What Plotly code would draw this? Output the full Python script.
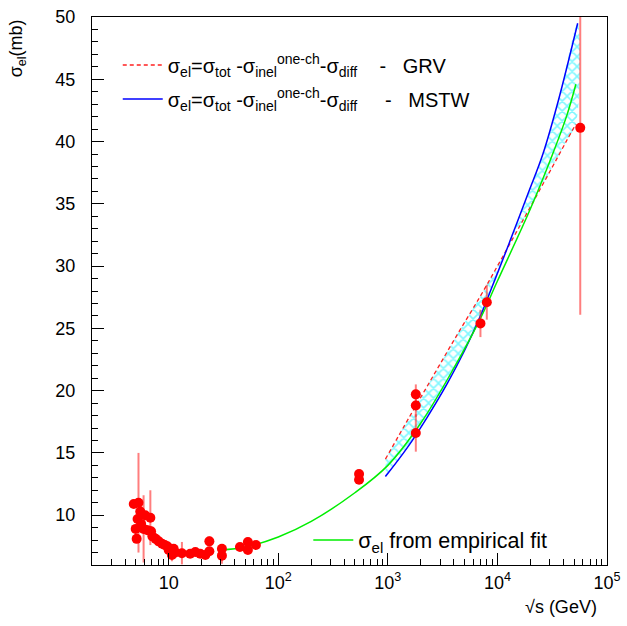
import plotly.graph_objects as go

# ---------------- data ----------------
# measured elastic cross sections (sqrt(s) in GeV, sigma_el in mb, error)
data_x = [4.8, 5.0, 5.1, 5.2, 5.3, 5.5, 5.6, 5.9, 6.1, 6.4, 6.8, 6.9, 7.1, 7.6, 8.1,
          8.7, 9.2, 9.7, 10.0, 10.4, 10.7, 11.1, 11.5, 13.2, 15.7, 17.5, 19.4, 21.6,
          23.5, 23.5, 30.6, 30.6, 44.7, 52.8, 52.8, 62.5,
          546, 546, 1800, 1800, 1800, 7000, 8000, 57000]
data_y = [10.9, 8.9, 8.1, 9.7, 11.0, 10.3, 9.3, 8.9, 10.0, 8.8, 9.8, 8.7, 8.3, 8.1, 7.9,
          7.7, 7.6, 7.5, 7.2, 7.3, 6.8, 7.3, 7.0, 6.95, 6.9, 7.05, 6.9, 6.8,
          7.9, 7.1, 7.3, 6.75, 7.45, 7.85, 7.2, 7.6,
          13.3, 12.85, 19.7, 18.8, 16.6, 25.4, 27.1, 41.1]
data_err = [0.3, 0.3, 0.3, 0.4, 4.0, 0.4, 0.5, 2.7, 0.3, 0.4, 2.2, 0.4, 0.3, 0.3, 0.3,
            0.3, 0.3, 0.3, 0.3, 0.3, 0.5, 0.3, 0.3, 0.9, 0.2, 0.2, 0.2, 0.2,
            0.4, 0.2, 0.2, 0.65, 0.2, 0.2, 0.2, 0.2,
            0.3, 0.3, 0.8, 0.9, 1.5, 1.1, 1.4, 15.0]

# empirical fit
fit_x = [30, 50, 100, 200, 500, 1000, 2000, 4000, 7000, 10000, 20000, 31600, 43000, 52000]
fit_y = [7.2, 7.44, 8.25, 9.5, 11.8, 14.0, 17.4, 21.8, 25.8, 28.8, 34.6, 38.9, 42.1, 44.6]

# sigma_el = sigma_tot - sigma_inel(one-ch) - sigma_diff, GRV
grv_x = [950, 1600, 2600, 4300, 7000, 10000, 14000, 19000, 31000, 43000, 52000]
grv_y = [14.5, 18.0, 21.2, 24.5, 27.6, 30.0, 32.3, 34.4, 37.8, 40.1, 41.4]

# same, MSTW
mstw_x = [950, 1500, 2300, 3500, 5000, 7000, 9000, 12000, 19000, 26000, 36000, 54000]
mstw_y = [13.1, 15.4, 17.9, 20.6, 23.2, 26.0, 28.4, 31.2, 35.8, 39.0, 43.3, 49.5]

x_tickvals = [10, 100, 1000, 10000, 100000]
x_ticktext = ["10", "10<sup>2</sup>", "10<sup>3</sup>", "10<sup>4</sup>", "10<sup>5</sup>"]

leg_text = "σ<sub>el</sub>=σ<sub>tot</sub> -σ<sub>inel</sub><sup>one-ch</sup>-σ<sub>diff</sub>"

FONT = "Liberation Sans, Arial, sans-serif"

fig = go.Figure()

# hatched band between the two model curves
band_x = grv_x + mstw_x[::-1]
band_y = grv_y + mstw_y[::-1]
fig.add_trace(go.Scatter(
    x=band_x, y=band_y, mode="lines", fill="toself", line_shape="spline",
    line=dict(width=0, color="rgba(0,0,0,0)"),
    fillcolor="rgba(0,0,0,0)",
    fillpattern=dict(shape="x", fgcolor="#00f0ff", bgcolor="rgba(0,0,0,0)",
                     size=7, solidity=0.4),
    showlegend=False, hoverinfo="skip"))

fig.add_trace(go.Scatter(
    x=grv_x, y=grv_y, mode="lines", line_shape="spline",
    line=dict(color="#ff2020", width=1.3, dash="4px,3px"),
    name=leg_text + "    -   GRV", legend="legend", legendgroup="a"))

fig.add_trace(go.Scatter(
    x=mstw_x, y=mstw_y, mode="lines", line_shape="spline",
    line=dict(color="#0000ff", width=1.5),
    name=leg_text + "     -   MSTW", legend="legend", legendgroup="b"))

fig.add_trace(go.Scatter(
    x=fit_x, y=fit_y, mode="lines", line_shape="spline",
    line=dict(color="#00ee00", width=1.5),
    name="σ<sub>el</sub> from empirical fit", legend="legend2"))

fig.add_trace(go.Scatter(
    x=data_x, y=data_y, mode="markers",
    marker=dict(color="#ff0000", size=10, line=dict(width=0)),
    error_y=dict(type="data", array=data_err, color="rgba(255,40,40,0.6)",
                 thickness=2, width=0),
    showlegend=False))

axis_common = dict(
    showline=True, linecolor="black", linewidth=1, mirror=True,
    ticks="inside", tickcolor="black", showgrid=False, zeroline=False,
    automargin=False,
    tickfont=dict(family=FONT, size=18, color="black"),
)

fig.update_xaxes(
    type="log", range=[0.3, 5.0],
    tickmode="array", tickvals=x_tickvals, ticktext=x_ticktext, ticklen=12,
    minor=dict(tickmode="array",
               tickvals=[m * 10 ** e for e in range(0, 5) for m in range(2, 10)],
               ticks="inside", ticklen=6, tickcolor="black", showgrid=False),
    ticklabelstandoff=1,
    **axis_common)

fig.update_yaxes(
    range=[6, 50], tickmode="linear", tick0=10, dtick=5, ticklen=12,
    minor=dict(dtick=1, ticks="inside", ticklen=6, tickcolor="black", showgrid=False),
    ticklabelstandoff=12,
    **axis_common)

fig.update_layout(
    width=627, height=626,
    margin=dict(l=92, r=20, t=17, b=61, autoexpand=False),
    paper_bgcolor="white", plot_bgcolor="white",
    font=dict(family=FONT, size=18, color="black"),
    legend=dict(x=0.05, y=0.948, xanchor="left", yanchor="top",
                bgcolor="rgba(0,0,0,0)", borderwidth=0,
                font=dict(family=FONT, size=20, color="black"),
                itemwidth=40, traceorder="grouped", tracegroupgap=5),
    legend2=dict(x=0.42, y=0.008, xanchor="left", yanchor="bottom",
                 bgcolor="rgba(0,0,0,0)", borderwidth=0,
                 font=dict(family=FONT, size=21.5, color="black"),
                 itemwidth=40),
    annotations=[
        dict(text="σ<sub>el</sub>(mb)", textangle=-90, xref="paper", yref="paper",
             x=-0.145, y=1.0, xanchor="center", yanchor="top", showarrow=False,
             font=dict(family=FONT, size=18, color="black")),
        dict(text="√s (GeV)", xref="paper", yref="paper",
             x=0.985, y=-0.055, xanchor="right", yanchor="top", showarrow=False,
             font=dict(family=FONT, size=18, color="black")),
    ],
)

fig.write_html("out.html", config={"displayModeBar": False},
               post_script="document.body.style.margin='0';"
                           "document.body.style.overflow='hidden';")
